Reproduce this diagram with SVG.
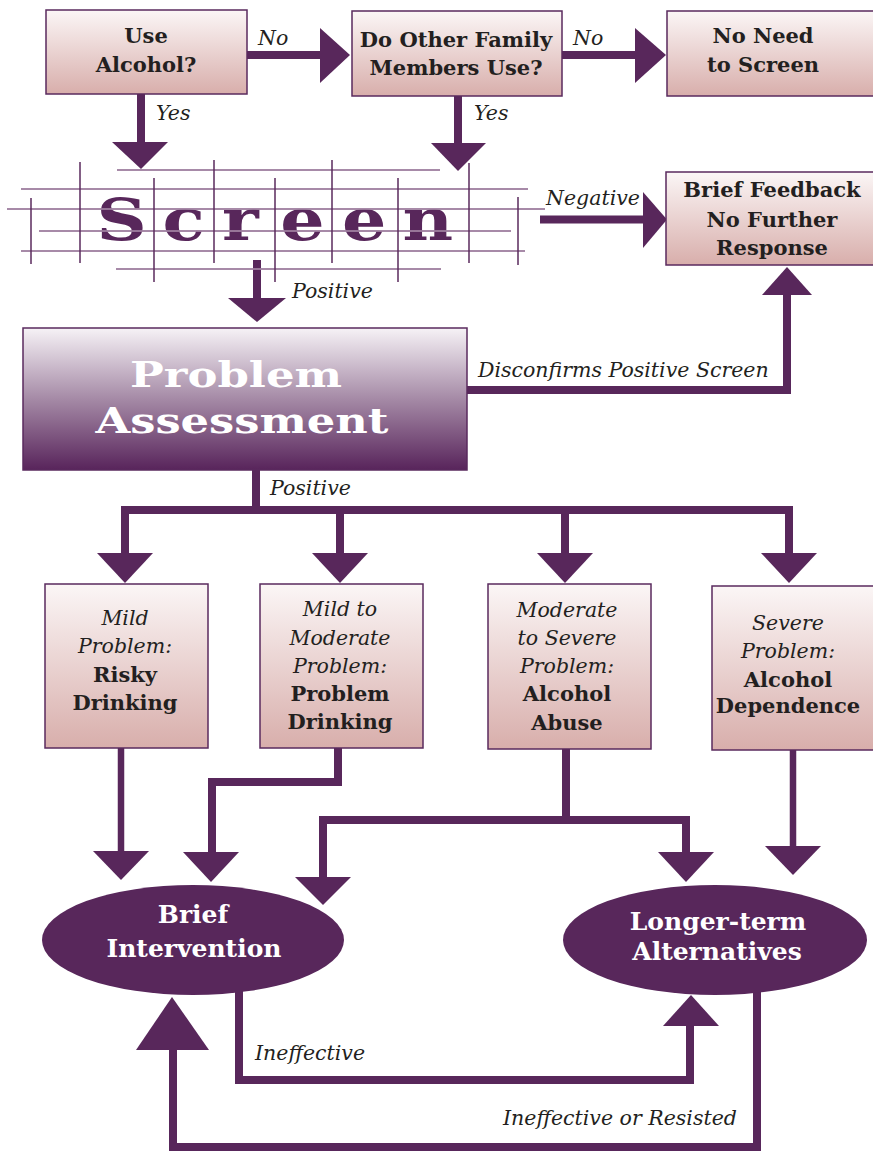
<svg xmlns="http://www.w3.org/2000/svg" width="873" height="1154" viewBox="0 0 873 1154">
<defs>
<linearGradient id="boxg" x1="0" y1="0" x2="0" y2="1">
<stop offset="0" stop-color="#FBF6F6"/>
<stop offset="1" stop-color="#D8AEAB"/>
</linearGradient>
<linearGradient id="pag" x1="0" y1="0" x2="0" y2="1">
<stop offset="0" stop-color="#F6F2F6"/>
<stop offset="0.5" stop-color="#A58AA6"/>
<stop offset="1" stop-color="#58245B"/>
</linearGradient>
<style>
.box{fill:url(#boxg);stroke:#5A2A5E;stroke-width:1.5}
.lbl{font-family:"DejaVu Serif","Liberation Serif",serif;font-weight:bold;font-size:21px;fill:#231F20;text-anchor:middle}
.it{font-family:"DejaVu Serif","Liberation Serif",serif;font-style:italic;font-size:20.5px;fill:#231F20}
.itc{font-family:"DejaVu Serif","Liberation Serif",serif;font-style:italic;font-size:20.5px;fill:#231F20;text-anchor:middle}
.wt{font-family:"DejaVu Serif","Liberation Serif",serif;font-weight:bold;fill:#FFFFFF;text-anchor:middle}
.ln{fill:none;stroke:#58275B;stroke-width:8}
.lt{fill:none;stroke:#58275B;stroke-width:6.5}
.hd{fill:#58275B}
.gh{stroke:#9E7E9F;stroke-width:2;opacity:0.9}
.gv{stroke:#5A2A5C;stroke-width:1.5}
</style>
</defs>

<g id="connectors">
<path class="ln" d="M246,55 H322"/>
<polygon class="hd" points="320,28 350,55 320,83"/>
<path class="ln" d="M562,55 H637"/>
<polygon class="hd" points="635,28 666,55 635,83"/>
<path class="ln" d="M141,94 V144"/>
<polygon class="hd" points="112,142 168,142 141,169"/>
<path class="ln" d="M458,96 V145"/>
<polygon class="hd" points="431,143 486,143 458,171"/>
<path class="ln" d="M540,219.5 H645"/>
<polygon class="hd" points="643,192 667,219.5 643,248"/>
<path class="ln" d="M257,260 V300"/>
<polygon class="hd" points="228,298 286,298 257,322"/>
<path class="ln" d="M467,390 H787 V293"/>
<polygon class="hd" points="762,295 812,295 787,267"/>
<path class="ln" d="M256,470 V510 M121,510 H793 M125,506 V555 M340,506 V555 M565,506 V555 M789,506 V555"/>
<polygon class="hd" points="97,553 153,553 125,583"/>
<polygon class="hd" points="312,553 368,553 340,583"/>
<polygon class="hd" points="537,553 593,553 565,583"/>
<polygon class="hd" points="761,553 817,553 789,583"/>
<path class="lt" d="M121,748 V853"/>
<polygon class="hd" points="93,851 149,851 121,880"/>
<path class="ln" d="M338,748 V782 H212 V854"/>
<polygon class="hd" points="183,852 239,852 211,882"/>
<path class="ln" d="M566,748 V820 M323,820 H690 M323,816 V879 M686,816 V854"/>
<polygon class="hd" points="295,877 351,877 323,905"/>
<polygon class="hd" points="658,852 714,852 686,882"/>
<path class="lt" d="M793,750 V848"/>
<polygon class="hd" points="765,846 821,846 793,875"/>
<path class="ln" d="M239,990 V1080 H690 V1024"/>
<polygon class="hd" points="663,1026 719,1026 691,995"/>
<path class="ln" d="M757,990 V1147 H173 V1048"/>
<polygon class="hd" points="136,1050 209,1050 172,997"/>
</g>

<g id="edge-labels">
<text class="it" x="258" y="45">No</text>
<text class="it" x="573" y="45">No</text>
<text class="it" x="156" y="120">Yes</text>
<text class="it" x="474" y="120">Yes</text>
<text class="it" x="546" y="205">Negative</text>
<text class="it" x="292" y="298">Positive</text>
<text class="it" x="478" y="377">Disconfirms Positive Screen</text>
<text class="it" x="270" y="495">Positive</text>
<text class="it" x="255" y="1060">Ineffective</text>
<text class="it" x="503" y="1125">Ineffective or Resisted</text>
</g>

<g id="use-alcohol">
<rect class="box" x="46" y="10" width="201" height="84"/>
<text class="lbl" x="146" y="43">Use</text>
<text class="lbl" x="146" y="72">Alcohol?</text>
</g>

<g id="other-family">
<rect class="box" x="352" y="11" width="210" height="85"/>
<text class="lbl" x="456" y="47">Do Other Family</text>
<text class="lbl" x="456" y="75">Members Use?</text>
</g>

<g id="no-need">
<rect class="box" x="667" y="11" width="215" height="85"/>
<text class="lbl" x="763" y="43">No Need</text>
<text class="lbl" x="763" y="72">to Screen</text>
</g>

<g id="screen">
<text transform="scale(1.2,1)" font-family="DejaVu Serif, Liberation Serif, serif" font-weight="bold" font-size="58" fill="#58275B" x="80.5 135.5 185 233.5 285 335.5" y="240">Screen</text>
<line class="gh" x1="117" y1="170" x2="440" y2="170"/>
<line class="gh" x1="21" y1="189" x2="528" y2="189"/>
<line class="gh" x1="7" y1="209" x2="545" y2="209"/>
<line class="gh" x1="39" y1="231" x2="511" y2="231"/>
<line class="gh" x1="21" y1="251" x2="525" y2="251"/>
<line class="gh" x1="116" y1="269" x2="441" y2="269"/>
<line class="gv" x1="31" y1="198" x2="31" y2="264"/>
<line class="gv" x1="80" y1="162" x2="80" y2="263"/>
<line class="gv" x1="154" y1="178" x2="154" y2="282"/>
<line class="gv" x1="214" y1="160" x2="214" y2="263"/>
<line class="gv" x1="275" y1="178" x2="275" y2="282"/>
<line class="gv" x1="332" y1="160" x2="332" y2="263"/>
<line class="gv" x1="398" y1="178" x2="398" y2="282"/>
<line class="gv" x1="469" y1="163" x2="469" y2="263"/>
<line class="gv" x1="518" y1="197" x2="518" y2="265"/>
</g>

<g id="brief-feedback">
<rect class="box" x="666" y="172" width="212" height="93"/>
<text class="lbl" x="772" y="197">Brief Feedback</text>
<text class="lbl" x="772" y="227">No Further</text>
<text class="lbl" x="772" y="255">Response</text>
</g>

<g id="problem-assessment">
<rect x="23" y="328" width="444" height="142" fill="url(#pag)" stroke="#5A2A5E" stroke-width="1.5"/>
<text class="wt" font-size="36" x="236" y="387" textLength="212" lengthAdjust="spacingAndGlyphs">Problem</text>
<text class="wt" font-size="36" x="242" y="433" textLength="293" lengthAdjust="spacingAndGlyphs">Assessment</text>
</g>

<g id="mild">
<rect class="box" x="45" y="584" width="163" height="164"/>
<text class="itc" x="125" y="625">Mild</text>
<text class="itc" x="125" y="653">Problem:</text>
<text class="lbl" x="125" y="682">Risky</text>
<text class="lbl" x="125" y="710">Drinking</text>
</g>

<g id="mild-moderate">
<rect class="box" x="260" y="584" width="163" height="164"/>
<text class="itc" x="340" y="616">Mild to</text>
<text class="itc" x="340" y="645">Moderate</text>
<text class="itc" x="340" y="673">Problem:</text>
<text class="lbl" x="340" y="701">Problem</text>
<text class="lbl" x="340" y="729">Drinking</text>
</g>

<g id="moderate-severe">
<rect class="box" x="488" y="584" width="163" height="165"/>
<text class="itc" x="567" y="617">Moderate</text>
<text class="itc" x="567" y="645">to Severe</text>
<text class="itc" x="567" y="673">Problem:</text>
<text class="lbl" x="567" y="701">Alcohol</text>
<text class="lbl" x="567" y="730">Abuse</text>
</g>

<g id="severe">
<rect class="box" x="712" y="586" width="168" height="164"/>
<text class="itc" x="788" y="630">Severe</text>
<text class="itc" x="788" y="658">Problem:</text>
<text class="lbl" x="788" y="687">Alcohol</text>
<text class="lbl" x="788" y="713">Dependence</text>
</g>

<g id="brief-intervention">
<ellipse cx="193" cy="940" rx="151" ry="55" fill="#58275B"/>
<text class="wt" font-size="25" x="193" y="923">Brief</text>
<text class="wt" font-size="25" x="194" y="957">Intervention</text>
</g>

<g id="longer-term">
<ellipse cx="715" cy="940" rx="152" ry="55" fill="#58275B"/>
<text class="wt" font-size="25" x="718" y="930">Longer-term</text>
<text class="wt" font-size="25" x="717" y="960">Alternatives</text>
</g>
</svg>
